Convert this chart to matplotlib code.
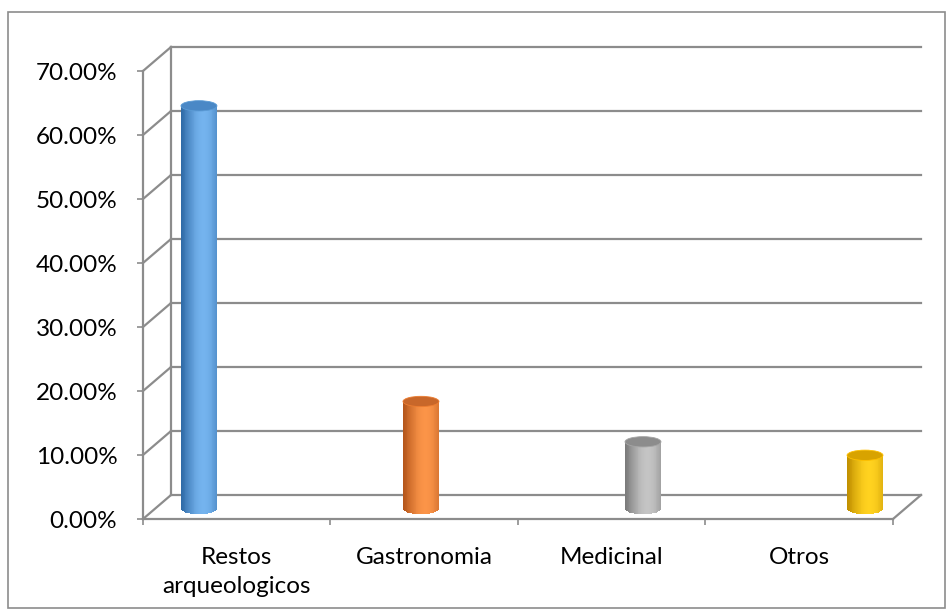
import numpy as np
import matplotlib
matplotlib.use("Agg")
import matplotlib.pyplot as plt
from matplotlib.patches import Ellipse, Rectangle
from matplotlib.colors import to_rgb

categories = ["Restos\narqueologicos", "Gastronomia", "Medicinal", "Otros"]
values = [62.5, 16.67, 10.42, 8.33]
yticks = [0, 10, 20, 30, 40, 50, 60, 70]
ytick_labels = ["0.00%", "10.00%", "20.00%", "30.00%", "40.00%", "50.00%", "60.00%", "70.00%"]

# dark edge, body, highlight, top cap
palettes = [
    ("#2f6aa6", "#5b9bd5", "#74b3ee", "#4a88c6"),
    ("#b4551a", "#ed7d31", "#fb9448", "#c8672a"),
    ("#7a7a7a", "#a5a5a5", "#c4c4c4", "#8c8c8c"),
    ("#c08f00", "#ffc000", "#ffd21f", "#d8a300"),
]

W, H = 953, 616
fig = plt.figure(figsize=(W / 100, H / 100), dpi=100)
plt.rcParams['font.family'] = ['Lato', 'DejaVu Sans']

# front plane of the 3D box, in pixels
x0, x1, y0, y1 = 143, 893, 519, 71
pos = [x0 / W, (H - y0) / H, (x1 - x0) / W, (y0 - y1) / H]
ax = fig.add_axes(pos)
ax.set_xlim(0, 4)
ax.set_ylim(0, 70)
for s in ax.spines.values():
    s.set_visible(False)

grid_c = "#8c8c8c"
lw = 1.6
dx = 28 / (x1 - x0) * 4
dy = 24 / (y0 - y1) * 70
for v in yticks:
    ax.plot([dx, 4 + dx], [v + dy, v + dy], color=grid_c, lw=lw, clip_on=False, zorder=1)
    ax.plot([0, dx], [v, v + dy], color=grid_c, lw=lw, clip_on=False, zorder=1)
ax.plot([0, 4], [0, 0], color=grid_c, lw=lw, clip_on=False, zorder=1)
ax.plot([4, 4 + dx], [0, dy], color=grid_c, lw=lw, clip_on=False, zorder=1)
ax.plot([0, 0], [0, 70], color=grid_c, lw=lw, clip_on=False, zorder=1)
ax.plot([dx, dx], [dy, 70 + dy], color=grid_c, lw=lw, clip_on=False, zorder=1)

fs = 17.5
ax.set_yticks(yticks)
ax.set_yticklabels(ytick_labels)
ax.set_xticks([0, 1, 2, 3, 4])
ax.set_xticklabels([])
ax.set_xticks([0.5, 1.5, 2.5, 3.5], minor=True)
ax.set_xticklabels(categories, minor=True)
ax.tick_params(axis="y", length=4.5, width=1.2, color=grid_c, pad=14, labelsize=fs)
ax.tick_params(axis="x", which="major", length=4.5, width=1.2, color=grid_c)
ax.tick_params(axis="x", which="minor", length=0, pad=20, labelsize=fs)
for t in ax.get_xticklabels(minor=True):
    t.set_linespacing(1.5)
    t.set_verticalalignment("top")

# bars live on an overlay axes (perspective shifts them relative to the labels)
ax2 = fig.add_axes(pos)
ax2.set_xlim(-0.252, 3.126)
ax2.set_ylim(-1.55, 67.9)
ax2.axis("off")
ax2.patch.set_alpha(0)

bw = 0.162
eh = 1.6
n = 40
for i, (v, pal) in enumerate(zip(values, palettes)):
    dark, mid, light, top = [np.array(to_rgb(c)) for c in pal]
    u = (np.arange(n) + 0.5) / n * 2 - 1
    xs = i + u * bw / 2
    # shading: dark at both edges, highlight a bit right of centre
    t = np.cos(np.clip((u - 0.25) / 1.25, -1, 1) * np.pi / 2) ** 1.2
    cols = [dark + (light - dark) * k for k in t]
    cap = eh / 2 * np.sqrt(np.clip(1 - u ** 2, 0, 1))
    ax2.bar(xs, v + cap, bottom=-cap, width=bw / n * 1.05, color=cols, linewidth=0)
    ax2.add_patch(Ellipse((i, v), bw, eh, facecolor=top, edgecolor=mid, lw=0.6, zorder=3))

# outer chart border
fig.add_artist(Rectangle((8 / W, 8 / H), (W - 16) / W, (H - 20) / H, transform=fig.transFigure,
                         fill=False, edgecolor="#8c8c8c", lw=1.2))

fig.savefig("out.png", dpi=100)
